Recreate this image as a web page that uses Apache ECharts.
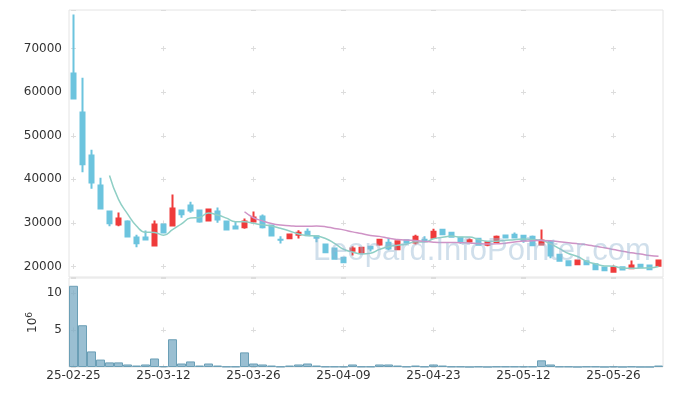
<!DOCTYPE html>
<html>
<head>
<meta charset="utf-8">
<script src="https://cdn.jsdelivr.net/npm/echarts@6/dist/echarts.min.js"></script>
<style>html,body{margin:0;padding:0;background:#fff;}#c{width:673px;height:396px;}</style>
</head>
<body>
<div id="c"></div>
<script>
const dates = ['25-02-25','25-02-26','25-02-27','25-02-28','25-03-04','25-03-05','25-03-06','25-03-07','25-03-10','25-03-11',
'25-03-12','25-03-13','25-03-14','25-03-17','25-03-18','25-03-19','25-03-20','25-03-21','25-03-24','25-03-25',
'25-03-26','25-03-27','25-03-28','25-03-31','25-04-01','25-04-02','25-04-03','25-04-04','25-04-07','25-04-08',
'25-04-09','25-04-10','25-04-11','25-04-14','25-04-15','25-04-16','25-04-17','25-04-18','25-04-21','25-04-22',
'25-04-23','25-04-24','25-04-25','25-04-28','25-04-29','25-04-30','25-05-02','25-05-07','25-05-08','25-05-09',
'25-05-12','25-05-13','25-05-14','25-05-15','25-05-16','25-05-19','25-05-20','25-05-21','25-05-22','25-05-23',
'25-05-26','25-05-27','25-05-28','25-05-29','25-05-30','25-06-02'];
const opens  = [64300,55330,45460,38580,32620,29630,30320,26650,26650,24820,29630,29400,32850,33990,32850,30550,32620,30320,29180,29020,
30320,31470,29400,26150,26490,27270,27960,26950,25050,24130,22000,23600,23140,24520,25050,25440,23970,26030,25510,26120,
26580,28420,27730,26580,25740,26350,24980,25570,27110,27270,27040,26810,25050,25670,22680,21220,20530,21220,20530,19770,
18780,19840,19610,20390,20230,20160];
const closes = [58540,43470,39270,33300,29930,31010,26880,25350,26190,29630,27800,33300,32000,32850,30320,33080,30780,28490,28720,30320,
31240,29020,27110,26120,27340,27730,27180,26580,23280,21770,20990,24130,24290,24130,26120,24130,25800,25440,26810,25900,
27960,27410,26810,25670,26030,24980,25570,26810,26650,26650,25960,24890,25960,22520,21310,20300,21380,20530,19380,19150,
19840,19310,20230,19840,19380,21380];
const lows   = [58400,41630,37820,33300,29250,29250,26880,24430,26190,24820,27800,29400,31170,32320,30020,30550,30020,28490,28720,28650,
30320,28720,27110,25280,26400,26420,27180,25570,23280,21770,20990,22520,23140,23440,24750,23740,23900,25440,25050,25670,
26400,27410,26810,25210,25440,24980,24660,25570,26650,26650,25440,24890,24900,21900,21310,20300,20400,20530,19380,19150,
18780,19310,19500,19840,19380,20160];
const highs  = [77800,63290,46770,40350,32620,32390,30620,27270,28260,30550,29630,36520,32850,34840,33100,33300,33530,30320,30320,31010,
32620,31930,29400,26950,27500,28330,28720,26950,25050,24130,22000,24660,24290,24520,26200,26580,26000,26030,27270,26950,
28650,28420,27960,26580,26420,26350,25740,27110,27110,27800,27270,27110,28490,25670,22680,21220,21500,21220,20530,19770,
20230,19840,21380,20390,20230,21380];
const volumes = [10.95,5.63,2.1,1.0,0.62,0.62,0.34,0.2,0.34,1.15,0.1,3.74,0.47,0.75,0.2,0.47,0.2,0.06,0.06,1.97,
0.47,0.34,0.2,0.06,0.2,0.34,0.47,0.2,0.06,0.06,0.06,0.34,0.06,0.06,0.34,0.34,0.2,0.06,0.2,0.06,
0.34,0.2,0.06,0.06,0.01,0.06,0.01,0.06,0.06,0.06,0.06,0.06,0.9,0.34,0.06,0.06,0.01,0.06,0.06,0.01,
0.06,0.01,0.06,0.01,0.01,0.2];
const priceTicks = [20000,30000,40000,50000,60000,70000];
const volumeTicks = [0,5,10];

function movingAverage(arr, n) {
  return arr.map((v, i) => {
    if (i < n - 1) return '-';
    let s = 0;
    for (let k = i - n + 1; k <= i; k++) s += arr[k];
    return +(s / n).toFixed(1);
  });
}
const ma5 = movingAverage(closes, 5);
const ma20 = movingAverage(closes, 20);
const candles = dates.map((d, i) => [opens[i], closes[i], lows[i], highs[i]]);

const FONT = 'DejaVu Sans';
const gridColor = '#dddddd';
const chart = echarts.init(document.getElementById('c'), null, {renderer: 'canvas'});
chart.setOption({
  animation: false,
  backgroundColor: '#ffffff',
  textStyle: {fontFamily: FONT},
  grid: [
    {left: 69, top: 10, width: 594, height: 267, show: true, borderColor: '#e4e4e4', borderWidth: 1, backgroundColor: 'transparent'},
    {left: 69, top: 278, width: 594, height: 89, show: true, borderColor: '#e4e4e4', borderWidth: 1, backgroundColor: 'transparent'}
  ],
  graphic: [{
    type: 'text', left: 313, top: 236, z: 100, silent: true,
    style: {text: 'Leopard.InfoPointer.com', font: '31px "Liberation Sans"', fill: 'rgba(150,185,210,0.45)'}
  }],
  xAxis: [
    {type: 'category', gridIndex: 0, data: dates, boundaryGap: true,
     axisLine: {show: false}, axisTick: {show: false}, axisLabel: {show: false},
     splitLine: {show: true, interval: 9, alignWithLabel: true, lineStyle: {color: gridColor, width: 1, type: [5, 38.59], dashOffset: 7.51}}},
    {type: 'category', gridIndex: 1, data: dates, boundaryGap: true,
     axisLine: {show: false}, axisTick: {show: false},
     axisLabel: {show: true, interval: 9, color: '#333', fontSize: 12, margin: 3, fontFamily: FONT},
     splitLine: {show: true, interval: 9, alignWithLabel: true, lineStyle: {color: gridColor, width: 1, type: [5, 32.08], dashOffset: 24.75}}}
  ],
  yAxis: [
    {type: 'value', gridIndex: 0, min: 17600, max: 78850, splitNumber: 5, scale: true,
     axisLine: {show: false}, axisTick: {show: false},
     axisLabel: {color: '#333', fontSize: 12, margin: 7, showMinLabel: false, showMaxLabel: false, fontFamily: FONT,
                 formatter: v => priceTicks.indexOf(v) >= 0 ? String(v) : ''},
     splitLine: {show: true, lineStyle: {color: gridColor, width: 1, type: [5, 85], dashOffset: 88}}},
    {type: 'value', gridIndex: 1, min: 0, max: 12, interval: 5,
     name: '10{s|6}', nameLocation: 'middle', nameRotate: 90, nameGap: 29, nameMoveOverlap: false,
     nameTextStyle: {color: '#333', fontSize: 12, fontFamily: FONT, rich: {s: {fontSize: 9, verticalAlign: 'top', padding: [0,0,6,0], color: '#333'}}},
     axisLine: {show: false}, axisTick: {show: false},
     axisLabel: {color: '#333', fontSize: 12, margin: 7, showMinLabel: false, showMaxLabel: false, fontFamily: FONT,
                 formatter: v => volumeTicks.indexOf(v) >= 0 ? String(v) : ''},
     splitLine: {show: true, lineStyle: {color: gridColor, width: 1, type: [5, 85], dashOffset: 88}}}
  ],
  series: [
    {type: 'candlestick', name: 'price', xAxisIndex: 0, yAxisIndex: 0, data: candles, barWidth: 4.5,
     itemStyle: {color: '#ef3b3b', color0: '#6cc4de', borderColor: '#ef3b3b', borderColor0: '#6cc4de', borderWidth: 2}},
    {type: 'line', name: 'MA5', xAxisIndex: 0, yAxisIndex: 0, data: ma5, smooth: true, showSymbol: false,
     lineStyle: {color: '#8fcfc5', width: 1.5}},
    {type: 'line', name: 'MA20', xAxisIndex: 0, yAxisIndex: 0, data: ma20, smooth: true, showSymbol: false,
     lineStyle: {color: '#cf93c6', width: 1.5}},
    {type: 'bar', name: 'volume', xAxisIndex: 1, yAxisIndex: 1, data: volumes, barWidth: '100%',
     itemStyle: {color: 'rgba(120,170,195,0.75)', borderColor: '#6b9fb6', borderWidth: 1}}
  ]
});
</script>
</body>
</html>
